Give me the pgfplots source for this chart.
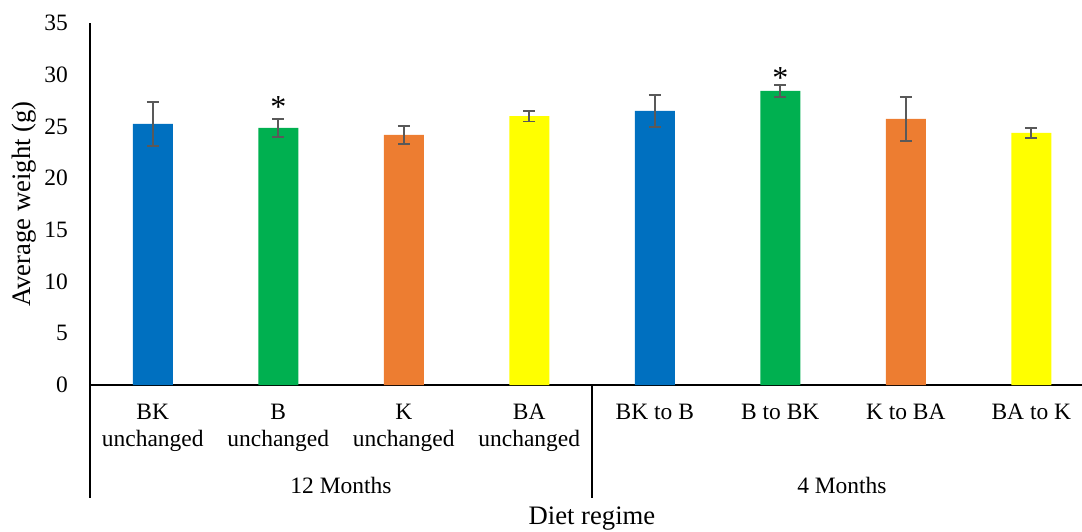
\documentclass[border=0pt]{standalone}
\usepackage{pgfplots}
\pgfplotsset{compat=1.18}
\usepackage{fontspec}
\setmainfont{Liberation Serif}
\definecolor{cblue}{HTML}{0070C0}
\definecolor{cgreen}{HTML}{00B050}
\definecolor{corange}{HTML}{ED7D31}
\definecolor{cyellow}{HTML}{FFFF00}
\definecolor{errgray}{HTML}{595959}
\newcommand{\chfont}{\fontsize{17.6pt}{20.25pt}\selectfont}
\newcommand{\lbfont}{\fontsize{20pt}{24pt}\selectfont}
\begin{document}
\chfont
\begin{tikzpicture}
\useasboundingbox (-67.5pt,-110.25pt) rectangle (744pt,288.75pt);
\begin{axis}[
  at={(0pt,0pt)}, anchor=south west,
  scale only axis, width=744pt, height=271.5pt,
  xmin=-0.5, xmax=7.404, ymin=0, ymax=35,
  axis x line=bottom, axis y line=left,
  axis line style={-, line width=1.1pt, black},
  ytick={0,5,...,35}, xtick={0,1,...,7},
  major tick length=0pt,
  xticklabels={{BK\\unchanged},{B\\unchanged},{K\\unchanged},{BA\\unchanged},{BK to B},{B to BK},{K to BA},{BA to K}},
  xticklabel style={align=center, anchor=north, yshift=-8pt, font=\chfont},
  yticklabel style={anchor=east, xshift=-10.5pt, font=\chfont},
  /pgf/number format/assume math mode=true,
  xlabel={Diet regime}, ylabel={Average weight (g)},
  xlabel style={at={(axis description cs:0.506,-0.368)}, anchor=center, font=\lbfont},
  ylabel style={at={(axis description cs:-0.0665,0.5)}, anchor=center, font=\lbfont},
  ybar, bar width=30pt, bar shift=0pt,
  clip=false,
  error bars/error bar style={line width=1.4pt, color=errgray},
  error bars/error mark options={rotate=90, mark size=4.4pt, line width=1.4pt, color=errgray},
]
\addplot[fill=cblue, draw=none, error bars/.cd, y dir=both, y explicit]
  coordinates {(0,25.24) +- (0,2.15) (4,26.5) +- (0,1.55)};
\addplot[fill=cgreen, draw=none, error bars/.cd, y dir=both, y explicit]
  coordinates {(1,24.85) +- (0,0.9) (5,28.43) +- (0,0.55)};
\addplot[fill=corange, draw=none, error bars/.cd, y dir=both, y explicit]
  coordinates {(2,24.18) +- (0,0.88) (6,25.73) +- (0,2.15)};
\addplot[fill=cyellow, draw=none, error bars/.cd, y dir=both, y explicit]
  coordinates {(3,26.0) +- (0,0.52) (7,24.37) +- (0,0.5)};
\node[font=\fontsize{24pt}{26pt}\selectfont, inner sep=0pt] at (axis cs:1,26.9) {*};
\node[font=\fontsize{24pt}{26pt}\selectfont, inner sep=0pt] at (axis cs:5,29.65) {*};
\node[font=\chfont] at (axis description cs:0.253,-0.2762) {12 Months};
\node[font=\chfont] at (axis description cs:0.758,-0.2762) {4 Months};
\draw[line width=1.1pt, black] (axis description cs:0,0) -- (axis description cs:0,-0.3122);
\draw[line width=1.1pt, black] (axis description cs:0.50605,0) -- (axis description cs:0.50605,-0.3122);
\draw[line width=1.1pt, black] (axis description cs:1.0121,0) -- (axis description cs:1.0121,-0.3122);
\end{axis}
\end{tikzpicture}
\end{document}
